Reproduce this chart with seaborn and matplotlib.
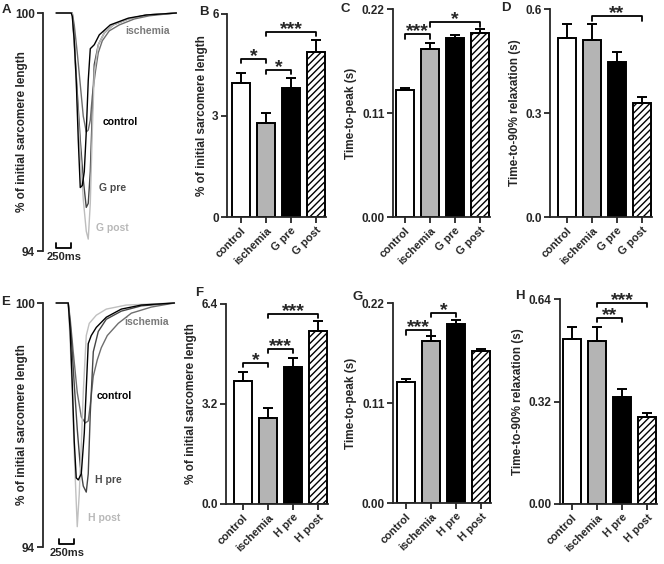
import numpy as np
import pandas as pd
import matplotlib
matplotlib.use("Agg")
import matplotlib.pyplot as plt
import seaborn as sns

# ---------------- data ----------------
cats_G = ["control", "ischemia", "G pre", "G post"]
cats_H = ["control", "ischemia", "H pre", "H post"]

B_mean = [3.96, 2.78, 3.82, 4.88]
B_err = [0.30, 0.30, 0.29, 0.36]
C_mean = [0.134, 0.178, 0.189, 0.195]
C_err = [0.0025, 0.006, 0.004, 0.004]
D_mean = [0.516, 0.512, 0.447, 0.329]
D_err = [0.040, 0.045, 0.030, 0.018]
F_mean = [3.94, 2.75, 4.38, 5.54]
F_err = [0.28, 0.32, 0.29, 0.32]
G_mean = [0.133, 0.178, 0.197, 0.167]
G_err = [0.003, 0.006, 0.004, 0.002]
H_mean = [0.515, 0.509, 0.334, 0.272]
H_err = [0.038, 0.044, 0.025, 0.012]

# representative sarcomere traces (time ms, % of initial length)
A_ctrl_t = [0, 250, 267, 300, 333, 367, 400, 433, 467, 500, 533, 567, 633, 717, 900, 1200, 1500, 2000]
A_ctrl_p = [100, 100, 99.92, 99.3, 98.3, 96.8, 95.6, 95.65, 96.0, 97.0, 98.3, 99.1, 99.2, 99.45, 99.7, 99.87, 99.95, 100]
A_isch_t = [0, 267, 300, 350, 400, 450, 500, 533, 567, 600, 650, 700, 767, 883, 1050, 1300, 1550, 1800, 2000]
A_isch_p = [100, 100, 99.7, 99.0, 98.2, 97.4, 97.0, 97.05, 97.3, 97.9, 98.5, 99.0, 99.3, 99.55, 99.7, 99.85, 99.93, 99.97, 100]
A_pre_t = [0, 267, 300, 350, 400, 450, 500, 533, 567, 600, 633, 700, 800, 950, 1200, 1500, 2000]
A_pre_p = [100, 100, 99.3, 98.0, 96.8, 95.8, 95.1, 95.2, 96.0, 97.5, 98.7, 99.2, 99.5, 99.7, 99.85, 99.95, 100]
A_post_t = [0, 267, 300, 350, 400, 450, 500, 533, 567, 600, 633, 700, 800, 950, 1200, 1500, 2000]
A_post_p = [100, 100, 99.2, 97.8, 96.5, 95.3, 94.5, 94.3, 95.2, 97.0, 98.5, 99.2, 99.5, 99.7, 99.85, 99.95, 100]

E_ctrl_t = [0, 200, 233, 267, 300, 333, 367, 417, 467, 533, 583, 667, 833, 1083, 1417, 1967]
E_ctrl_p = [100, 100, 99.3, 98.0, 96.6, 95.7, 95.65, 95.8, 96.8, 99.0, 99.2, 99.4, 99.65, 99.85, 99.95, 100]
E_isch_t = [0, 200, 233, 283, 350, 417, 483, 533, 567, 617, 683, 750, 850, 1033, 1250, 1583, 1967]
E_isch_p = [100, 100, 99.6, 98.8, 97.8, 97.2, 97.05, 97.1, 97.5, 98.2, 98.6, 98.9, 99.2, 99.5, 99.75, 99.9, 100]
E_pre_t = [0, 200, 250, 300, 350, 400, 450, 500, 533, 567, 617, 700, 833, 1083, 1417, 1967]
E_pre_p = [100, 100, 99.2, 98.0, 96.9, 96.0, 95.5, 95.35, 95.8, 97.3, 98.8, 99.3, 99.6, 99.8, 99.93, 100]
E_post_t = [0, 200, 233, 267, 300, 350, 383, 417, 450, 500, 550, 667, 833, 1167, 1967]
E_post_p = [100, 100, 99.0, 97.8, 96.3, 94.5, 95.3, 96.5, 97.8, 99.2, 99.5, 99.7, 99.85, 99.95, 100]

# ---------------- style ----------------
sns.set_theme(style="ticks")
plt.rcParams["font.family"] = ["Liberation Sans", "DejaVu Sans"]
plt.rcParams["font.weight"] = "bold"
plt.rcParams["axes.labelweight"] = "bold"
plt.rcParams["hatch.linewidth"] = 1.0

W, Hh = 664, 564
fig = plt.figure(figsize=(W / 100, Hh / 100), dpi=100)


def add_axes_px(l, t, r, b):
    return fig.add_axes([l / W, 1 - b / Hh, (r - l) / W, (b - t) / Hh])


def letter(x, y, s):
    fig.text(x / W, 1 - y / Hh, s, ha="center", va="center", fontsize=9.5, fontweight="bold")


def trace_panel(box, traces, labels, scale_x0):
    ax = add_axes_px(*box)
    for t, p, c in traces:
        sns.lineplot(x=t, y=p, ax=ax, color=c, linewidth=1.0, estimator=None,
                     sort=False, clip_on=False)
    ax.set_xlim(-220, 2060)
    ax.set_ylim(94, 100)
    for s in ["top", "right", "bottom"]:
        ax.spines[s].set_visible(False)
    ax.spines["left"].set_linewidth(1.3)
    ax.set_xticks([])
    ax.set_yticks([94, 100])
    ax.set_yticklabels(["94", "100"])
    ax.tick_params(axis="y", length=4, width=1.3, labelsize=8.5, pad=2)
    ax.set_ylabel("% of initial sarcomere length", fontsize=8.5)
    ax.yaxis.set_label_coords(-0.11, 0.5)
    for txt, x, y, c in labels:
        ax.text(x, y, txt, color=c, fontsize=7.5, ha="center", va="center", fontweight="bold")
    ax.plot([scale_x0, scale_x0, scale_x0 + 250, scale_x0 + 250], [94.2, 94.08, 94.08, 94.2],
            color="black", lw=1.3, clip_on=False)
    ax.annotate("250ms", xy=(scale_x0 + 125, 94.0), xytext=(0, -1), textcoords="offset points",
                ha="center", va="top", fontsize=8, fontweight="bold")
    return ax


def bar_panel(left, top, bottom, first_c, cats, means, errs, yticks, ylabels_t, ylabel, brackets):
    xl = -(first_c - left) / 25.0
    xr = 3.4
    right = left + 25.0 * (xr - xl)
    ax = add_axes_px(left, top, right, bottom)
    colors = ["white", "#b4b4b4", "black", "white"]
    df = pd.DataFrame({"cat": cats, "val": means})
    sns.barplot(data=df, x="cat", y="val", hue="cat", palette=colors, legend=False,
                errorbar=None, width=0.72, edgecolor="black", linewidth=1.4,
                saturation=1, ax=ax, zorder=2)
    ax.patches[3].set_hatch("/////")
    ax.errorbar(np.arange(4), means, yerr=[np.zeros(4), errs], fmt="none", ecolor="black",
                elinewidth=1.4, capsize=3.5, capthick=1.4, zorder=3)
    ax.set_xlim(xl, xr)
    ax.set_ylim(yticks[0], yticks[-1])
    ax.set_yticks(yticks)
    ax.set_yticklabels(ylabels_t)
    ax.set_xlabel("")
    ax.set_ylabel(ylabel, fontsize=8.5, labelpad=3)
    for s in ["top", "right"]:
        ax.spines[s].set_visible(False)
    for s in ["left", "bottom"]:
        ax.spines[s].set_linewidth(1.3)
    ax.tick_params(axis="both", length=4, width=1.3, labelsize=8.5, pad=2)
    ax.set_xticks(range(4))
    ax.set_xticklabels(cats, rotation=45, ha="right", rotation_mode="anchor", fontsize=8)
    ymax = yticks[-1]
    for i, j, y, st in brackets:
        d = ymax * 0.022
        ax.plot([i, i, j, j], [y - d, y, y, y - d], color="black", lw=1.3, clip_on=False)
        ax.annotate(st, xy=((i + j) / 2, y), xytext=(0, -1.5), textcoords="offset points",
                    ha="center", va="baseline", fontsize=14, fontweight="bold",
                    annotation_clip=False)
    return ax


# ---------------- panels ----------------
trace_panel((43, 13, 180, 251),
            [(A_isch_t, A_isch_p, "#6e6e6e"), (A_pre_t, A_pre_p, "#454545"),
             (A_post_t, A_post_p, "#bdbdbd"), (A_ctrl_t, A_ctrl_p, "black")],
            [("ischemia", 1517, 99.55, "#7a7a7a"), ("control", 1067, 97.25, "black"),
             ("G pre", 933, 95.6, "#4a4a4a"), ("G post", 933, 94.58, "#b8b8b8")],
            0)
trace_panel((43, 303, 180, 547),
            [(E_isch_t, E_isch_p, "#6e6e6e"), (E_pre_t, E_pre_p, "#454545"),
             (E_post_t, E_post_p, "#c0c0c0"), (E_ctrl_t, E_ctrl_p, "black")],
            [("ischemia", 1500, 99.53, "#7a7a7a"), ("control", 967, 97.71, "black"),
             ("H pre", 867, 95.65, "#4a4a4a"), ("H post", 800, 94.71, "#b8b8b8")],
            50)

bar_panel(227, 14, 217, 241, cats_G, B_mean, B_err, [0, 3, 6], ["0", "3", "6"],
          "% of initial sarcomere length",
          [(0, 1, 4.67, "*"), (1, 2, 4.35, "*"), (1, 3, 5.47, "***")])
bar_panel(393, 9, 217, 405, cats_G, C_mean, C_err, [0, 0.11, 0.22], ["0.00", "0.11", "0.22"],
          "Time-to-peak (s)",
          [(0, 1, 0.1935, "***"), (1, 3, 0.2063, "*")])
bar_panel(550, 9, 217, 567, cats_G, D_mean, D_err, [0, 0.3, 0.6], ["0.0", "0.3", "0.6"],
          "Time-to-90% relaxation (s)",
          [(1, 3, 0.58, "**")])
bar_panel(226, 304, 504, 243, cats_H, F_mean, F_err, [0, 3.2, 6.4], ["0.0", "3.2", "6.4"],
          "% of initial sarcomere length",
          [(0, 1, 4.51, "*"), (1, 2, 4.96, "***"), (1, 3, 6.08, "***")])
bar_panel(393, 303, 503, 406, cats_H, G_mean, G_err, [0, 0.11, 0.22], ["0.00", "0.11", "0.22"],
          "Time-to-peak (s)",
          [(0, 1, 0.190, "***"), (1, 2, 0.209, "*")])
bar_panel(560, 299, 504, 572, cats_H, H_mean, H_err, [0, 0.32, 0.64], ["0.00", "0.32", "0.64"],
          "Time-to-90% relaxation (s)",
          [(1, 2, 0.581, "**"), (1, 3, 0.628, "***")])

letter(6, 10, "A")
letter(204, 12, "B")
letter(345, 9, "C")
letter(506, 8, "D")
letter(6, 302, "E")
letter(199, 293, "F")
letter(358, 297, "G")
letter(520, 296, "H")

fig.savefig("out.png", dpi=100)
